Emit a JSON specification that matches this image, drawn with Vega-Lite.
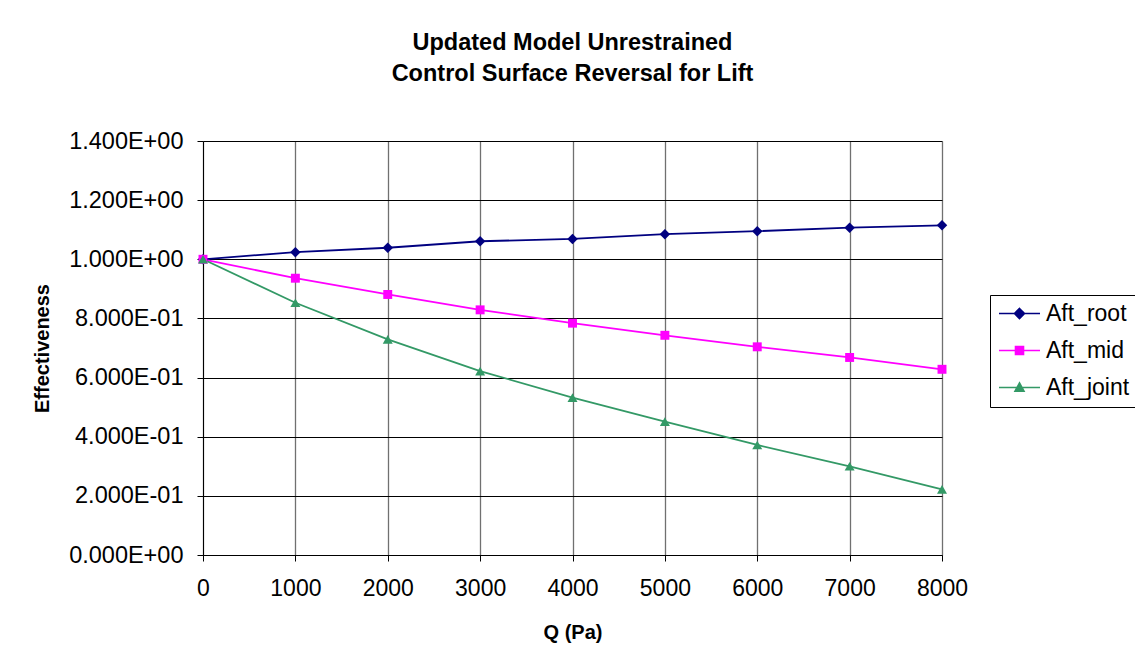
{
  "$schema": "https://vega.github.io/schema/vega-lite/v6.json",
  "width": 739,
  "height": 414,
  "autosize": "none",
  "padding": {"left": 203, "top": 141, "right": 193, "bottom": 108},
  "background": "white",
  "config": {"view": {"stroke": null}, "font": "Liberation Sans"},
  "title": {
    "text": ["Updated Model Unrestrained", "Control Surface Reversal for Lift"],
    "fontSize": 23.5,
    "fontWeight": "bold",
    "font": "Liberation Sans",
    "lineHeight": 31,
    "anchor": "middle",
    "offset": 44,
    "color": "black"
  },
  "data": {
    "values": [
      {"Q": 0, "series": "Aft_root", "value": 1.0},
      {"Q": 1000, "series": "Aft_root", "value": 1.024},
      {"Q": 2000, "series": "Aft_root", "value": 1.039},
      {"Q": 3000, "series": "Aft_root", "value": 1.061},
      {"Q": 4000, "series": "Aft_root", "value": 1.069},
      {"Q": 5000, "series": "Aft_root", "value": 1.085},
      {"Q": 6000, "series": "Aft_root", "value": 1.095},
      {"Q": 7000, "series": "Aft_root", "value": 1.107},
      {"Q": 8000, "series": "Aft_root", "value": 1.115},
      {"Q": 0, "series": "Aft_mid", "value": 1.0},
      {"Q": 1000, "series": "Aft_mid", "value": 0.936},
      {"Q": 2000, "series": "Aft_mid", "value": 0.881},
      {"Q": 3000, "series": "Aft_mid", "value": 0.829},
      {"Q": 4000, "series": "Aft_mid", "value": 0.784},
      {"Q": 5000, "series": "Aft_mid", "value": 0.743},
      {"Q": 6000, "series": "Aft_mid", "value": 0.704},
      {"Q": 7000, "series": "Aft_mid", "value": 0.668},
      {"Q": 8000, "series": "Aft_mid", "value": 0.628},
      {"Q": 0, "series": "Aft_joint", "value": 1.0},
      {"Q": 1000, "series": "Aft_joint", "value": 0.853},
      {"Q": 2000, "series": "Aft_joint", "value": 0.729},
      {"Q": 3000, "series": "Aft_joint", "value": 0.622},
      {"Q": 4000, "series": "Aft_joint", "value": 0.532},
      {"Q": 5000, "series": "Aft_joint", "value": 0.451},
      {"Q": 6000, "series": "Aft_joint", "value": 0.372},
      {"Q": 7000, "series": "Aft_joint", "value": 0.300},
      {"Q": 8000, "series": "Aft_joint", "value": 0.222}
    ]
  },
  "encoding": {
    "x": {
      "field": "Q",
      "type": "quantitative",
      "scale": {"domain": [0, 8000], "nice": false},
      "axis": {
        "title": "Q (Pa)",
        "values": [0, 1000, 2000, 3000, 4000, 5000, 6000, 7000, 8000],
        "format": "d",
        "labelFlush": false,
        "labelOverlap": false,
        "labelFontSize": 23,
        "labelFont": "Liberation Sans",
        "labelColor": "black",
        "labelPadding": 16,
        "tickSize": 6,
        "tickColor": "black",
        "domainColor": "#000000",
        "grid": true,
        "gridColor": "#707070",
        "gridWidth": 1.3,
        "titleFontSize": 20,
        "titleFontWeight": "bold",
        "titleFont": "Liberation Sans",
        "titleColor": "black",
        "titlePadding": 22
      }
    },
    "y": {
      "field": "value",
      "type": "quantitative",
      "scale": {"domain": [0, 1.4], "nice": false},
      "axis": {
        "title": "Effectiveness",
        "values": [0, 0.2, 0.4, 0.6, 0.8, 1, 1.2, 1.4],
        "labelExpr": "datum.value == 0 ? '0.000E+00' : (datum.value >= 0.999 ? format(datum.value, '.3f') + 'E+00' : format(datum.value * 10, '.3f') + 'E-01')",
        "labelFlush": false,
        "labelOverlap": false,
        "labelFontSize": 23.5,
        "labelFont": "Liberation Sans",
        "labelColor": "black",
        "labelPadding": 14,
        "tickSize": 6,
        "tickColor": "black",
        "domainColor": "black",
        "grid": true,
        "gridColor": "#000000",
        "gridWidth": 1,
        "titleFontSize": 20,
        "titleFontWeight": "bold",
        "titleFont": "Liberation Sans",
        "titleColor": "black",
        "titlePadding": 16
      }
    },
    "color": {
      "field": "series",
      "type": "nominal",
      "scale": {
        "domain": ["Aft_root", "Aft_mid", "Aft_joint"],
        "range": ["#000080", "#FF00FF", "#339966"]
      },
      "legend": {
        "orient": "none",
        "legendX": 787,
        "legendY": 154,
        "title": null,
        "strokeColor": "black",
        "fillColor": "white",
        "padding": 7,
        "labelFontSize": 23,
        "labelFont": "Liberation Sans",
        "labelColor": "black",
        "symbolSize": 400,
        "symbolOffset": 11,
        "labelOffset": 15,
        "symbolStrokeWidth": 1.6,
        "rowPadding": 13,
        "encode": {
          "symbols": {
            "update": {
              "shape": {"signal": "datum.value === 'Aft_root' ? 'M-2.05,0H2.05M0,-0.5L0.5,0L0,0.5L-0.5,0Z' : (datum.value === 'Aft_mid' ? 'M-2.05,0H2.05M-0.4,-0.4H0.4V0.4H-0.4Z' : 'M-2.05,0H2.05M0,-0.45L0.45,0.37L-0.45,0.37Z')"},
              "fill": {"signal": "scale('color', datum.value)"},
              "stroke": {"signal": "scale('color', datum.value)"}
            }
          }
        }
      }
    }
  },
  "layer": [
    {"mark": {"type": "line", "strokeWidth": 1.8}},
    {
      "transform": [{"filter": "datum.series === 'Aft_root'"}],
      "mark": {"type": "point", "shape": "diamond", "filled": true, "opacity": 1, "size": 110}
    },
    {
      "transform": [{"filter": "datum.series === 'Aft_mid'"}],
      "mark": {"type": "point", "shape": "square", "filled": true, "opacity": 1, "size": 80}
    },
    {
      "transform": [{"filter": "datum.series === 'Aft_joint'"}],
      "mark": {"type": "point", "shape": "triangle-up", "filled": true, "opacity": 1, "size": 100}
    }
  ]
}
